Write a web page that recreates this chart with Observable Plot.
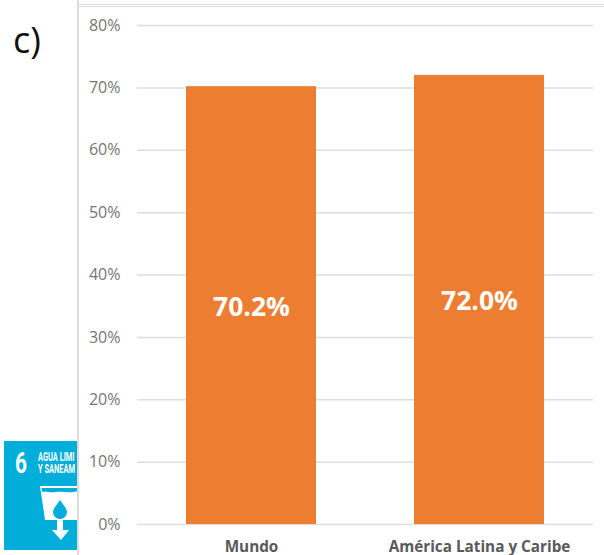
<!DOCTYPE html>
<html><head><meta charset="utf-8">
<script src="https://cdn.jsdelivr.net/npm/d3@7"></script>
<script src="https://cdn.jsdelivr.net/npm/@observablehq/plot@0.6"></script>
<style>
html,body{margin:0;padding:0;background:#fff;overflow:hidden}
#wrap{position:relative;width:604px;height:555px;overflow:hidden;font-family:"Open Sans",sans-serif}
#chart{position:absolute;left:0;top:0}
#chart svg{display:block}
.rule{position:absolute;background:#dcdcdc}
#tag{position:absolute;left:13px;top:17px;font:36px/46px "Open Sans",sans-serif;color:#111}
#icon{position:absolute;left:4px;top:441px}
</style></head><body>
<div id="wrap">
<div id="chart"></div>
<div class="rule" style="left:77px;top:0;width:2px;height:555px"></div>
<div class="rule" style="left:77px;top:4px;width:527px;height:1px"></div>
<div class="rule" style="left:77px;top:6px;width:527px;height:1px"></div>
<div id="tag">c)</div>
<svg id="icon" width="73" height="109" viewBox="0 0 73 109">
<rect width="73" height="109" fill="#00aed9"/>
<text transform="translate(11 32) scale(0.72 1)" font-family="Roboto,sans-serif" font-weight="700" font-size="29" fill="#fff">6</text>
<text transform="translate(34 20) scale(0.62 1)" font-family="Roboto,sans-serif" font-weight="700" font-size="12" fill="#fff">AGUA LIMI</text>
<text transform="translate(34 32) scale(0.62 1)" font-family="Roboto,sans-serif" font-weight="700" font-size="12" fill="#fff">Y SANEAM</text>
<path d="M36 45H73V79H41Z" fill="#fff"/>
<path d="M53 79H59V89H65L57 99L48 89H53Z" fill="#fff"/>
<path d="M37.500 47H73V50C66 53 60 50 52 51C47 52 42 50 38 51Z" fill="#00aed9"/>
<path d="M56 59C59 64 63 67 63 71A7 7 0 0 1 49 71C49 67 53 64 56 59Z" fill="#00aed9"/>
</svg>
</div>
<script>
const regions = ["Mundo", "América Latina y Caribe"];
const shares = [70.2, 72.0];
const ticks = [0, 10, 20, 30, 40, 50, 60, 70, 80];
const rows = regions.map((r, i) => ({region: r, share: shares[i]}));

const plot = Plot.plot({
  width: 604, height: 555,
  marginTop: 25, marginBottom: 31, marginLeft: 137, marginRight: 11,
  style: {fontFamily: "Open Sans, sans-serif", background: "transparent"},
  x: {domain: regions, paddingInner: 0.43, paddingOuter: 0.215, label: null},
  y: {domain: [0, 80], label: null},
  marks: [
    Plot.gridY(ticks, {stroke: "#dedede", strokeOpacity: 1, strokeWidth: 1.5}),
    Plot.barY(rows, {x: "region", y: "share", fill: "#ed7d31"}),
    Plot.text(rows, {x: "region", y: d => d.share / 2, text: d => d.share.toFixed(1) + "%",
      fill: "#fff", fontWeight: 700, fontSize: 26.500, dy: 2}),
    Plot.axisY(ticks, {tickSize: 0, tickPadding: 17, tickFormat: d => d + "%",
      fontSize: 16, color: "#757575", label: null, textAnchor: "end"}),
    Plot.axisX({tickSize: 0, tickPadding: 17, fontSize: 15.300, fontWeight: 700, color: "#595959", label: null})
  ]
});
document.getElementById("chart").appendChild(plot);
</script>
</body></html>
